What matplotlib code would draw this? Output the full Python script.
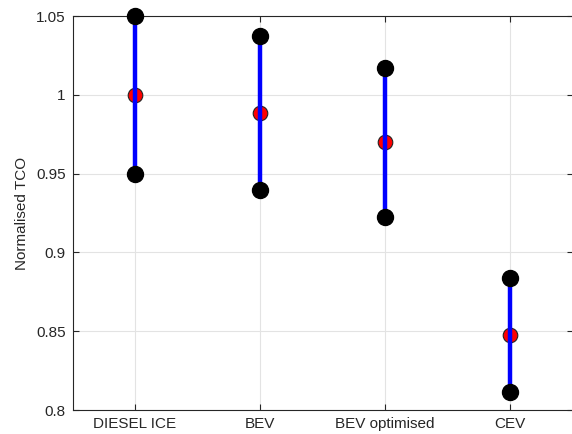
import matplotlib.pyplot as plt

# data
labels = ['DIESEL ICE', 'BEV', 'BEV optimised', 'CEV']
tco_mid = [1.000, 0.9885, 0.970, 0.8476]
tco_low = [0.950, 0.9396, 0.9227, 0.8116]
tco_high = [1.050, 1.0375, 1.017, 0.8836]

plt.rcParams['font.family'] = ['Liberation Sans', 'DejaVu Sans']
plt.rcParams['font.size'] = 11

fig = plt.figure(figsize=(5.72, 4.34), dpi=100)
ax = fig.add_axes([72.5 / 572, 24 / 434, 500 / 572, 394 / 434])

x = list(range(1, len(labels) + 1))

# red mid markers, then the range line, then the black end points
ax.plot(x, tco_mid, 'o', color='red', markeredgecolor='#222222',
        markersize=10.5, markeredgewidth=0.8, linestyle='none', zorder=3, clip_on=False)
ax.vlines(x, tco_low, tco_high, color='blue', linewidth=3.2, zorder=4)
ax.plot(x, tco_low, 'o', color='black', markersize=11.5, linestyle='none', zorder=5, clip_on=False)
ax.plot(x, tco_high, 'o', color='black', markersize=11.5, linestyle='none', zorder=5, clip_on=False)

ax.set_xlim(0.5, 4.5)
ax.set_ylim(0.8, 1.05)
ax.set_xticks(x)
ax.set_xticklabels(labels)
ax.set_yticks([0.8, 0.85, 0.9, 0.95, 1.0, 1.05])
ax.set_yticklabels(['0.8', '0.85', '0.9', '0.95', '1', '1.05'])
ax.set_ylabel('Normalised TCO', color='#262626', labelpad=5)

ax.grid(True, color='#e3e3e3', linewidth=0.8)
ax.set_axisbelow(True)
ax.tick_params(direction='in', top=True, right=True, length=4, width=0.8,
               colors='#262626', labelcolor='#262626', pad=5)
for s in ax.spines.values():
    s.set_color('#262626')
    s.set_linewidth(0.8)
# right edge of the box falls just outside the picture
ax.spines['right'].set_visible(False)

fig.savefig('out.png', dpi=100)
